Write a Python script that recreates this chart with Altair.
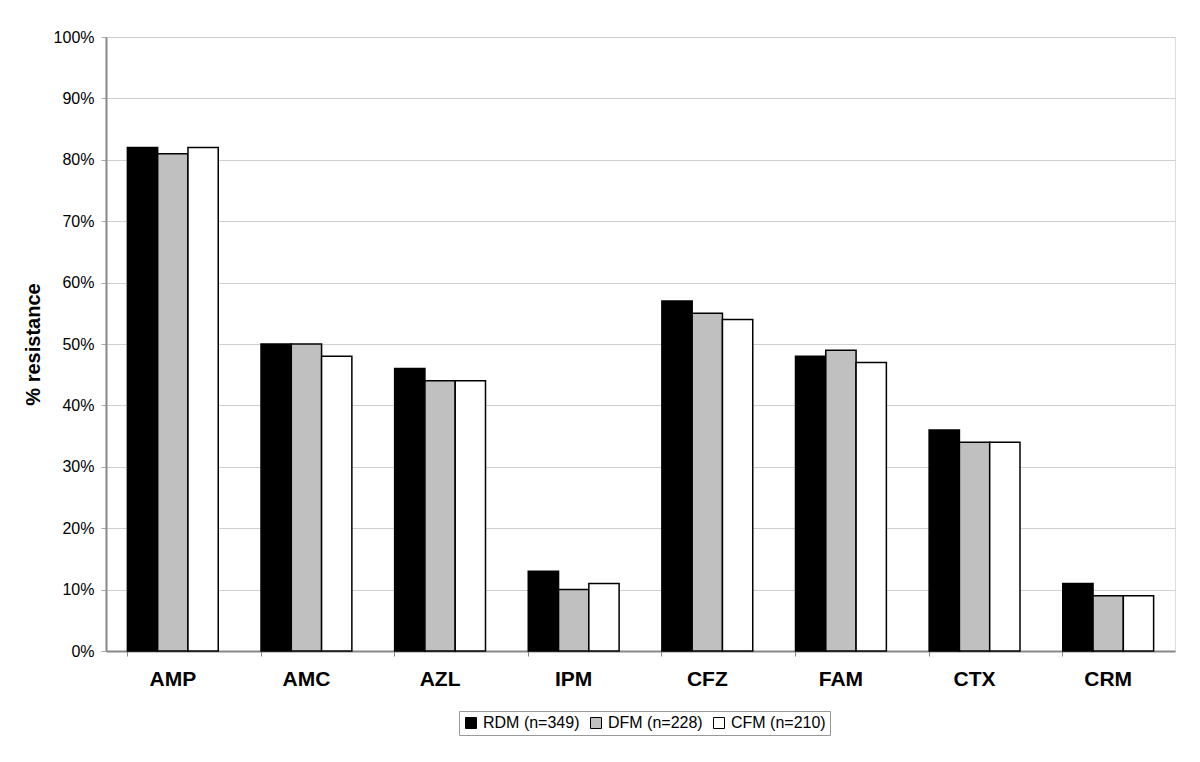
import altair as alt
import pandas as pd

categories = ["AMP", "AMC", "AZL", "IPM", "CFZ", "FAM", "CTX", "CRM"]
series = ["RDM (n=349)", "DFM (n=228)", "CFM (n=210)"]
rdm = [82, 50, 46, 13, 57, 48, 36, 11]
dfm = [81, 50, 44, 10, 55, 49, 34, 9]
cfm = [82, 48, 44, 11, 54, 47, 34, 9]
y_ticks = [0, 10, 20, 30, 40, 50, 60, 70, 80, 90, 100]

rows = []
for vals, s in zip([rdm, dfm, cfm], series):
    for c, v in zip(categories, vals):
        rows.append({"cat": c, "series": s, "value": v})
df = pd.DataFrame(rows)

font = "Liberation Sans"

chart = alt.Chart(df).mark_bar(stroke="black", strokeWidth=1.5).encode(
    x=alt.X("cat:N", sort=categories, title=None,
            scale=alt.Scale(paddingInner=0.32, paddingOuter=0.16),
            axis=alt.Axis(labelAngle=0, labelFont=font, labelFontSize=21,
                          labelFontWeight="bold", labelColor="black",
                          labelPadding=12, bandPosition=0, ticks=True,
                          tickSize=5, tickColor="#888888",
                          domainColor="#888888", domainWidth=2, grid=False)),
    xOffset=alt.XOffset("series:N", sort=series),
    y=alt.Y("value:Q", title="% resistance",
            scale=alt.Scale(domain=[0, 100], nice=False),
            axis=alt.Axis(values=y_ticks, labelExpr="datum.value + '%'",
                          labelFont=font, labelFontSize=16, labelColor="black",
                          labelPadding=7, tickSize=5, tickColor="#aaaaaa",
                          domainColor="#888888", domainWidth=2,
                          gridColor="#d0d0d0", gridWidth=1,
                          titleFont=font, titleFontSize=20, titleFontWeight="bold",
                          titleColor="black", titlePadding=10)),
    fill=alt.Fill("series:N", sort=series,
                  scale=alt.Scale(domain=series, range=["#000000", "#c0c0c0", "#ffffff"]),
                  legend=alt.Legend(title=None, orient="none", legendX=353, legendY=674,
                                    direction="horizontal", strokeColor="#999999",
                                    padding=4, symbolType="square", symbolSize=121,
                                    symbolStrokeColor="black", symbolStrokeWidth=1,
                                    labelFont=font, labelFontSize=16, labelColor="black",
                                    columnPadding=8, labelOffset=4)),
).properties(
    width=1069, height=614,
    autosize=alt.AutoSizeParams(type="none"),
    padding={"left": 98, "top": 29, "right": 17, "bottom": 100},
).configure_view(stroke="#888888", strokeWidth=2).configure(background="white")

chart.save("out.html", embed_options={"renderer": "svg", "actions": False})
